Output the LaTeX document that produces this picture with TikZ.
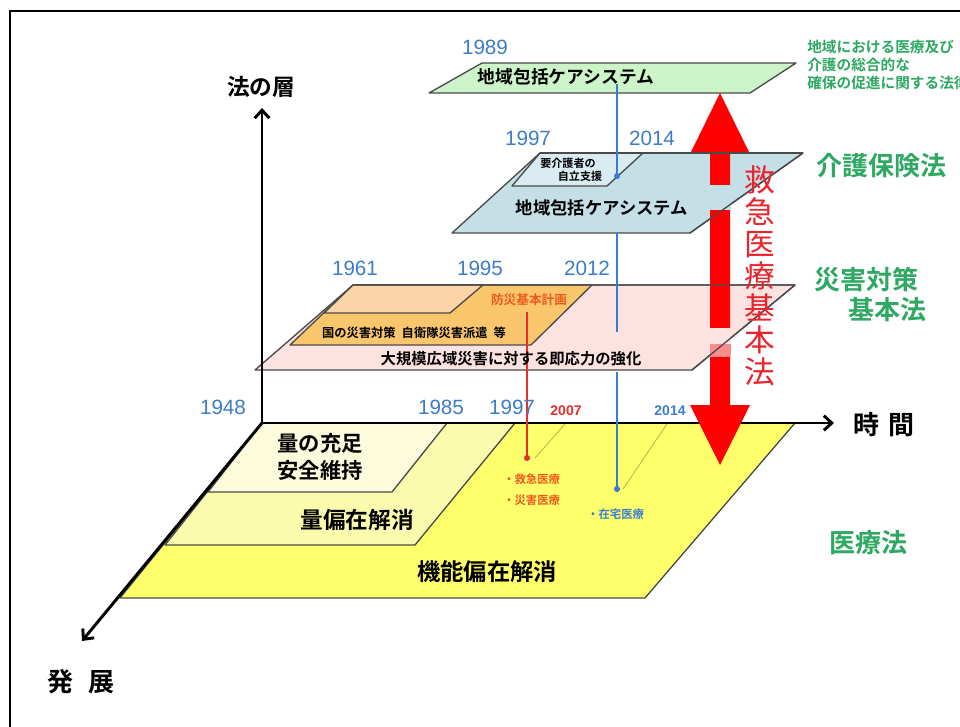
\documentclass[tikz,border=0pt]{standalone}
\usepackage{fontspec}
\setmainfont{Liberation Sans}
\newfontfamily\jp{Noto Sans CJK JP}[BoldFont={Noto Sans CJK JP Bold}]
\usetikzlibrary{arrows.meta}
\definecolor{yrblue}{HTML}{3D7CC9}
\definecolor{lawgreen}{HTML}{2EA862}
\definecolor{layeredge}{HTML}{4A4A4A}
\definecolor{ybig}{HTML}{FFFF6B}
\definecolor{ymid}{HTML}{FBFBAE}
\definecolor{ylight}{HTML}{FCFCDC}
\definecolor{pinkL}{HTML}{FDE2E2}
\definecolor{orangeL}{HTML}{F9C66C}
\definecolor{peachL}{HTML}{FBD4A8}
\definecolor{blueL}{HTML}{C4E0E6}
\definecolor{blueS}{HTML}{D8ECF2}
\definecolor{greenL}{HTML}{CCF4C8}
\definecolor{arrowred}{HTML}{FF0000}
\definecolor{textred}{HTML}{E8252E}
\definecolor{orangetext}{HTML}{EE5A1E}
\definecolor{olivethin}{HTML}{B5B548}
\definecolor{lineblue}{HTML}{3A7DD0}
\definecolor{linered}{HTML}{E8302A}
\begin{document}
\begin{tikzpicture}[x=0.75pt,y=-0.75pt,
  layer/.style={draw=layeredge,line width=1pt,line join=round},
  axisline/.style={line width=2.2pt,-{Straight Barb[length=6pt,width=11pt]}},
  yr/.style={text=yrblue,font=\fontsize{15.5}{18}\selectfont,inner sep=0pt},
  yrsmall/.style={font=\bfseries\fontsize{10.5}{12}\selectfont,inner sep=0pt},
  jplbl/.style={font=\jp\fontsize{#1}{#1}\selectfont,inner sep=0pt},
  jpbold/.style={font=\jp\bfseries\fontsize{#1}{#1}\selectfont,inner sep=0pt},
  lawlbl/.style={text=lawgreen,font=\jp\bfseries\fontsize{19.5}{23}\selectfont,inner sep=0pt},
  vline/.style={line width=1.1pt,-{Circle[length=4.5pt]}},
  vlineplain/.style={line width=1.1pt}
]
\useasboundingbox (0,0) rectangle (960,727);
\fill[white] (0,0) rectangle (960,727);
% frame
\draw[line width=1.5pt] (10,730) -- (10,11) -- (965,11);

% ---- bottom layers (医療法)
\filldraw[layer,fill=ybig] (262,423) -- (795,423) -- (645,598) -- (120,598) -- cycle;
\filldraw[layer,fill=ymid] (262,423) -- (515,423) -- (415,545) -- (165,545) -- cycle;
\filldraw[layer,fill=ylight] (262,423) -- (447,423) -- (392,492) -- (208,492) -- cycle;

% thin olive lines
\coordinate (oa1) at (565,424); \coordinate (ob1) at (535,458);
\coordinate (oa2) at (667,424); \coordinate (ob2) at (623,489);
\draw[olivethin,line width=0.6pt] (oa1) -- (ob1);
\draw[olivethin,line width=0.6pt] (oa2) -- (ob2);

% ---- disaster layers (災害対策基本法)
\filldraw[layer,fill=pinkL] (353,285) -- (795,285) -- (692,370) -- (255,370) -- cycle;
\filldraw[layer,fill=orangeL] (353,285) -- (592,285) -- (531,345) -- (290,345) -- cycle;
\filldraw[layer,fill=peachL] (353,285) -- (483,285) -- (450,313) -- (324,313) -- cycle;

% ---- care layers (介護保険法)
\filldraw[layer,fill=blueL] (540,153) -- (803,153) -- (690,233) -- (452,233) -- cycle;
\filldraw[layer,fill=blueS] (540,153) -- (643,153) -- (607,186) -- (512,186) -- cycle;

% ---- top layer
\filldraw[layer,fill=greenL] (482,63) -- (796,63) -- (750,93) -- (429,93) -- cycle;

% ---- axes
\coordinate (O) at (262,423);
\coordinate (up) at (262,108);
\coordinate (right) at (834,423);
\coordinate (down) at (82,641);
\draw[axisline] (O) -- (up);
\draw[axisline] (O) -- (right);
\draw[axisline] (O) -- (down);

% ---- big red double arrow
\fill[arrowred] (720,93) -- (749,152) -- (730,152) -- (730,405) -- (750,405) -- (720,465)
  -- (690,405) -- (710,405) -- (710,152) -- (691,152) -- cycle;
\fill[blueL] (709.5,185) rectangle (730.5,210);
\fill[pinkL] (709.5,328) rectangle (730.5,344);
\fill[arrowred!45] (709.5,344) rectangle (730.5,357);
\draw[layer] (803,153) -- (690,233);
\draw[layer] (540,153) -- (803,153);
\draw[layer] (353,285) -- (795,285) -- (692,370);

% ---- vertical connector lines
\coordinate (b0) at (617,84); \coordinate (b1) at (617,179);
\coordinate (b2) at (617,233); \coordinate (b3) at (617,332);
\coordinate (b4) at (617,372); \coordinate (b5) at (617,492);
\draw[vline,lineblue] (b0) -- (b1);
\draw[vlineplain,lineblue] (b2) -- (b3);
\draw[vline,lineblue] (b4) -- (b5);
\coordinate (r0) at (527,312); \coordinate (r1) at (527,461);
\draw[vline,linered] (r0) -- (r1);

% ---- axis labels
\node[jpbold=17] (lz) at (261,87) {法の層};
\node[jpbold=19.5] (tj) at (884,425) {時\hspace{0.35em}間};
\node[jpbold=19.5] (th) at (81,682) {発\hspace{0.6em}展};

% ---- years
\node[yr] (y1989) at (485,47) {1989};
\node[yr] (y1997a) at (528,138) {1997};
\node[yr] (y2014a) at (652,138) {2014};
\node[yr] (y1961) at (355,268) {1961};
\node[yr] (y1995) at (480,268) {1995};
\node[yr] (y2012) at (587,268) {2012};
\node[yr] (y1948) at (223,407) {1948};
\node[yr] (y1985) at (441,407) {1985};
\node[yr] (y1997b) at (512,407) {1997};
\node[yrsmall,text=linered] (y2007) at (566,411) {2007};
\node[yrsmall,text=lineblue] (y2014b) at (670,411) {2014};

% ---- layer texts
\node[jpbold=13.3] (ttop) at (566,77) {地域包括ケアシステム};
\node[jpbold=8.3] (tyk) at (568,163) {要介護者の};
\node[jpbold=8.3] (tjr) at (580,176) {自立支援};
\node[jpbold=13] (tcare) at (602,208) {地域包括ケアシステム};
\node[jpbold=9.5,text=orangetext] (tbosai) at (529,300) {防災基本計画};
\node[jpbold=9.2] (tkuni) at (414,333) {国の災害対策\hspace{0.5em}自衛隊災害派遣\hspace{0.5em}等};
\node[jpbold=11.5] (tdai) at (511,359) {大規模広域災害に対する即応力の強化};
\node[jpbold=16] (tryo1) at (320,443) {量の充足};
\node[jpbold=16] (tryo2) at (320,470) {安全維持};
\node[jpbold=17] (thenzai) at (357,520) {量偏在解消};
\node[jpbold=17.5] (tkino) at (487,572) {機能偏在解消};
\node[jpbold=8.5,text=orangetext,anchor=west] (tq1) at (503,479) {・救急医療};
\node[jpbold=8.5,text=orangetext,anchor=west] (tq2) at (503,500) {・災害医療};
\node[jpbold=8.5,text=lineblue,anchor=west] (tq3) at (587,514) {・在宅医療};

% ---- law labels
\node[text=lawgreen,font=\jp\bfseries\fontsize{11}{13.8}\selectfont,inner sep=0pt,anchor=west,align=left] (lsogo) at (807,65)
  {地域における医療及び\\介護の総合的な\\確保の促進に関する法律};
\node[lawlbl] (lkaigo) at (881,166) {介護保険法};
\node[lawlbl] (ls1) at (866,280) {災害対策};
\node[lawlbl] (ls2) at (887,310) {基本法};
\node[lawlbl] (liryo) at (868,543) {医療法};

% ---- vertical red title
\node[text=textred,font=\jp\fontsize{23}{24}\selectfont,inner sep=0pt,align=center] (tkyukyu) at (760,276)
  {救\\急\\医\\療\\基\\本\\法};
\end{tikzpicture}
\end{document}
